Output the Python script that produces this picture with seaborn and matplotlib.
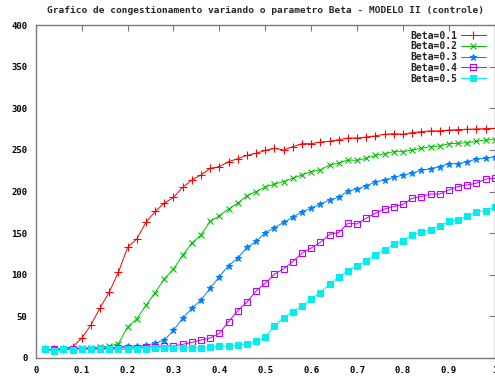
import numpy as np
import pandas as pd
import matplotlib
matplotlib.use("Agg")
import matplotlib.pyplot as plt
import seaborn as sns

x = [round(0.02 * i, 2) for i in range(1, 51)]

beta_01 = [10, 10, 11, 13, 23.5, 39.5, 60, 79, 103, 132.7,
           143, 163, 176, 186, 193, 205, 214, 220, 228, 230,
           236, 239.5, 243.5, 246, 249.5, 252, 250, 254, 257.6, 257.6,
           259.6, 260.4, 262.4, 264.4, 264.4, 265.6, 267, 268.8, 269.6, 269,
           270.8, 272, 273, 273, 274, 274.5, 275, 275.3, 275.7, 276]
beta_02 = [10, 10, 11, 11, 12, 12, 13, 14, 17, 37,
           47, 63, 78.5, 95, 106.6, 123.5, 138, 148, 164, 171,
           179, 186, 195, 200, 205.5, 209, 212, 216, 220, 224,
           226, 232, 234, 238, 237.5, 240, 243.5, 245.5, 248, 248,
           250, 252, 254, 254.8, 257.6, 258, 259, 260.4, 262, 262.4]
beta_03 = [10, 10, 10, 11, 11, 11, 12, 12, 13, 14,
           14, 15, 17.5, 21.4, 33, 47.6, 59.6, 69.6, 83.7, 97.7,
           111, 120, 132.7, 140, 150.5, 156.4, 163, 169, 175.7, 180,
           185, 190, 193, 200.6, 203, 207, 211.5, 214, 217, 220,
           222, 225.5, 227.5, 230, 233.5, 233.5, 236, 239, 240, 242]
beta_04 = [10, 10, 10, 10, 11, 11, 11, 11, 12, 12,
           12, 13, 13.4, 14.2, 14.2, 16.2, 18.6, 21.4, 23.8, 29.5,
           43.5, 56.7, 67, 80.5, 89.7, 100.6, 107, 115.8, 126, 132,
           139, 148.3, 150.7, 162, 161, 168, 174, 179, 182, 184.5,
           192, 194, 197, 197, 202, 206, 208, 210, 215, 216]
beta_05 = [10, 8, 10, 9.5, 10, 10, 10, 10, 10, 10,
           10.5, 10.5, 11.4, 11.4, 11.4, 12.2, 12.2, 12.2, 13, 13.8,
           14.2, 15.4, 16.6, 20.2, 24.5, 38.7, 48.3, 55.5, 62.4, 70.8,
           78.4, 88.6, 97, 105, 110.6, 117, 123.9, 130, 136.7, 141,
           148, 151, 154, 158.8, 164, 166, 170, 175.7, 177, 181]

labels = ["Beta=0.1", "Beta=0.2", "Beta=0.3", "Beta=0.4", "Beta=0.5"]
series = [beta_01, beta_02, beta_03, beta_04, beta_05]
colors = ["#ff0000", "#00c000", "#0080ff", "#c000ff", "#00eeee"]
markers = ["+", "x", "*", "s", "s"]
filled = [True, True, True, False, True]
msizes = [5.5, 4.5, 5.0, 4.0, 4.0]

xticks = [0, 0.1, 0.2, 0.3, 0.4, 0.5, 0.6, 0.7, 0.8, 0.9, 1]
xticklabels = ["0", "0.1", "0.2", "0.3", "0.4", "0.5", "0.6", "0.7", "0.8", "0.9", "1"]
yticks = [0, 50, 100, 150, 200, 250, 300, 350, 400]
title = "Grafico de congestionamento variando o parametro Beta - MODELO II (controle)"

sns.set_theme(style="white")
plt.rcParams["font.family"] = ["DejaVu Sans Mono", "DejaVu Sans"]
plt.rcParams["font.weight"] = "bold"

fig = plt.figure(figsize=(4.95, 3.81), dpi=100)
ax = fig.add_axes([0.0723, 0.0609, 0.9273, 0.8727])

for lab, ys, c, m, f, ms in zip(labels, series, colors, markers, filled, msizes):
    df = pd.DataFrame({"x": x, "y": ys})
    kw = dict(marker=m, markersize=ms, markeredgewidth=0.8,
              markeredgecolor=c, markerfacecolor=(c if f else "none"))
    sns.lineplot(data=df, x="x", y="y", ax=ax, color=c, linewidth=0.7,
                 label=lab, **kw)

ax.set_xlim(0, 1)
ax.set_ylim(0, 400)
ax.set_xticks(xticks)
ax.set_xticklabels(xticklabels)
ax.set_yticks(yticks)
ax.set_xlabel("")
ax.set_ylabel("")
for s in ax.spines.values():
    s.set_color("#7a7a7a")
    s.set_linewidth(1.0)
ax.tick_params(axis="both", which="both", direction="in", length=4, width=0.8,
               color="#7a7a7a", top=True, right=True, labelsize=6.5, pad=6,
               labelcolor="black")
ax.set_title(title, fontsize=6.8, fontweight="bold", pad=9)

leg = ax.legend(loc="upper right", bbox_to_anchor=(0.985, 0.99), frameon=False,
                markerfirst=False, fontsize=7, handlelength=2.6, handletextpad=0.3,
                labelspacing=0.08, borderpad=0.2, borderaxespad=0)
for t in leg.get_texts():
    t.set_fontweight("bold")

fig.savefig("out.png", dpi=100)
